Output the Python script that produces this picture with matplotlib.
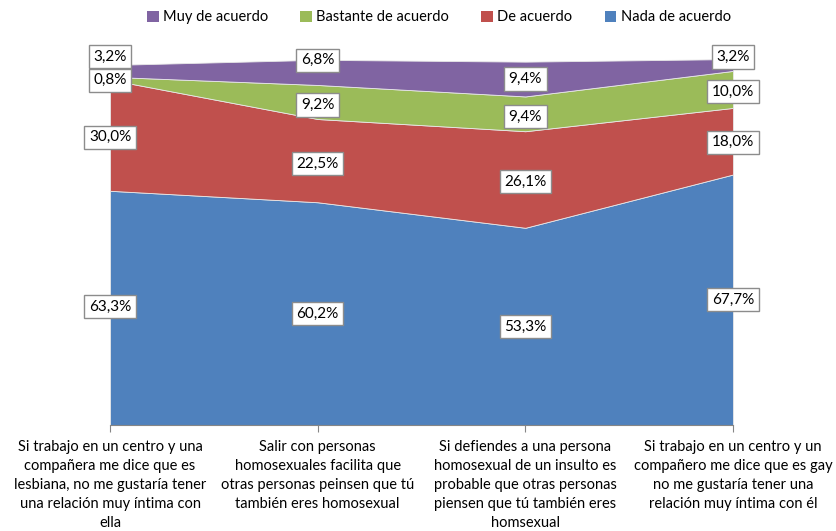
import matplotlib
matplotlib.use("Agg")
import matplotlib.pyplot as plt
import numpy as np

categories = [
    "Si trabajo en un centro y una\ncompañera me dice que es\nlesbiana, no me gustaría tener\nuna relación muy íntima con\nella",
    "Salir con personas\nhomosexuales facilita que\notras personas peinsen que tú\ntambién eres homosexual",
    "Si defiendes a una persona\nhomosexual de un insulto es\nprobable que otras personas\npiensen que tú también eres\nhomsexual",
    "Si trabajo en un centro y un\ncompañero me dice que es gay\nno me gustaría tener una\nrelación muy íntima con él",
]
series_names = ["Nada de acuerdo", "De acuerdo", "Bastante de acuerdo", "Muy de acuerdo"]
nada = [63.3, 60.2, 53.3, 67.7]
de_acuerdo = [30.0, 22.5, 26.1, 18.0]
bastante = [0.8, 9.2, 9.4, 10.0]
muy = [3.2, 6.8, 9.4, 3.2]

colors = ["#4F81BD", "#C0504D", "#9BBB59", "#8064A2"]
# label vertical offsets in pixels (to avoid overlap), per series per category
label_offsets = {
    3: [14, 12, 0, 8],
    2: [-2, -3, -3, -2],
    1: [-2, -3, -2, -1],
    0: [1, 0, 0, 0],
}

plt.rcParams['font.family'] = ['Lato', 'DejaVu Sans']

fig = plt.figure(figsize=(8.36, 5.31), dpi=100)
ax = fig.add_axes([110/836, 1-425/531, (733-110)/836, (425-55)/531])

x = np.arange(len(categories))
data = [nada, de_acuerdo, bastante, muy]
ax.stackplot(x, *data, colors=colors, edgecolor="#e8e8e8", linewidth=0.6)

ax.set_xlim(0, 3)
ax.set_ylim(0, 100)
for s in ["top", "right", "left"]:
    ax.spines[s].set_visible(False)
ax.spines["bottom"].set_color("#868686")
ax.set_yticks([])
ax.set_xticks(x)
ax.set_xticklabels(categories, fontsize=10.5, linespacing=1.45)
ax.tick_params(axis="x", length=5, color="#868686", pad=6)

cum = np.zeros(len(categories))
for si, vals in enumerate(data):
    vals = np.array(vals)
    centers = cum + vals / 2
    for ci in range(len(categories)):
        ax.annotate(f"{vals[ci]:.1f}%".replace(".", ","),
                    xy=(x[ci], centers[ci]),
                    xytext=(0, label_offsets[si][ci]), textcoords="offset pixels",
                    ha="center", va="center", fontsize=11, clip_on=False,
                    bbox=dict(boxstyle="square,pad=0.3", fc="white", ec="#8c8c8c", lw=1))
    cum += vals

from matplotlib.patches import Patch
handles = [Patch(facecolor=colors[i], label=series_names[i]) for i in [3, 2, 1, 0]]
fig.legend(handles=handles, loc="upper center", bbox_to_anchor=(0.525, 1.005), ncol=4,
           frameon=False, fontsize=10.5, handlelength=0.8, handleheight=0.8,
           handletextpad=0.3, columnspacing=2.2)

fig.savefig("out.png", dpi=100)
